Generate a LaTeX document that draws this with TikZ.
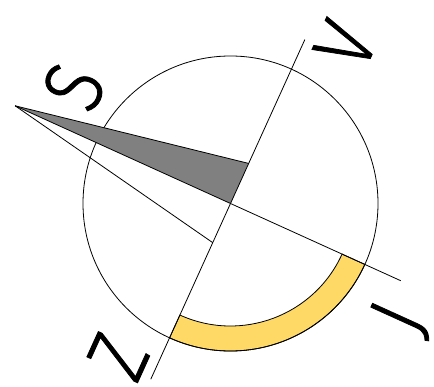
\documentclass[tikz,border=0pt]{standalone}
\usepackage{fontspec}
\IfFontExistsTF{Fira Sans Light}{\newfontfamily\compassfont{Fira Sans Light}[FakeBold=1]}{%
  \IfFontExistsTF{Open Sans Light}{\newfontfamily\compassfont{Open Sans Light}[FakeBold=1]}{%
    \IfFontExistsTF{Lato Light}{\newfontfamily\compassfont{Lato Light}[FakeBold=1]}{%
      \newfontfamily\compassfont{DejaVu Sans}}}}
\definecolor{ringyellow}{HTML}{FFD966}

\begin{document}
\begin{tikzpicture}[x=1pt,y=1pt,line width=0.8pt,
  dial/.style={draw,circle,minimum size=295pt,inner sep=0pt},
  ring/.style={draw,fill=ringyellow},
  needle/.style={fill=black!50},
  letter/.style={font=\compassfont\fontsize{83}{83}\selectfont,inner sep=0pt,transform shape,xscale=0.85}]
\useasboundingbox (0,0) rectangle (434,387);
\begin{scope}[shift={(230.5,183.5)},rotate=65.6]
% quarter ring between west and south
\path[ring] (180:147.5) arc[start angle=180,end angle=270,radius=147.5]
  -- (270:122.5) arc[start angle=270,end angle=180,radius=122.5] -- cycle;
\node[dial] (dial) at (0,0) {};
\coordinate (hub) at (0,0);
\coordinate (tip) at (0,236.5);
\coordinate (south) at (0,-187);
\coordinate (east) at (180,0);
\coordinate (west) at (-193,0);
\coordinate (barE) at (44,0);
\coordinate (barW) at (-43,0);
\fill[needle] (tip) -- (barE) -- (hub) -- cycle;
\draw (tip) -- (barE);
\draw (tip) -- (barW);
\draw (tip) -- (south);
\draw (west) -- (east);
% letters
\node[letter] (sever) at (41.5,190.7) {S};
\node[letter] (vychod) at (192,-39) {V};
\node[letter] (juh) at (-35,-204) {J};
\node[letter] (zapad) at (-186,39) {Z};
\end{scope}
\end{tikzpicture}
\end{document}
